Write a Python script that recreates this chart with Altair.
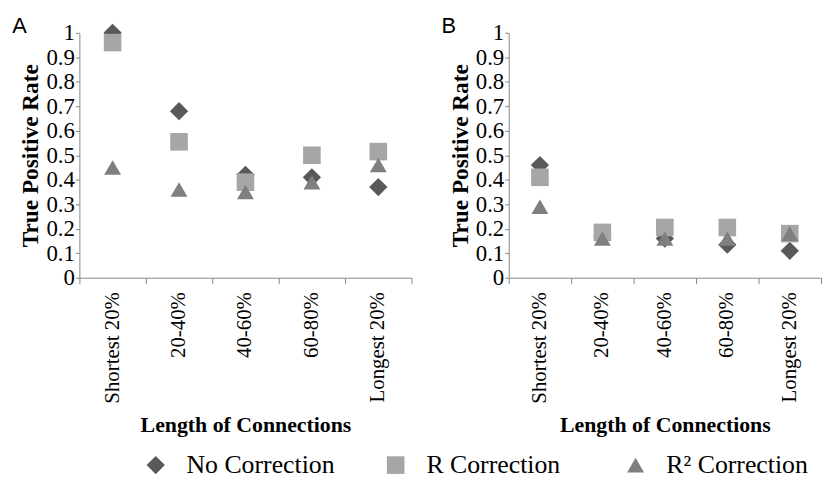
import altair as alt
import pandas as pd

categories = ["Shortest 20%", "20-40%", "40-60%", "60-80%", "Longest 20%"]
series = ["No Correction", "R Correction", "R² Correction"]
shapes = ["diamond", "square", "triangle-up"]
colors = ["#595959", "#a6a6a6", "#7f7f7f"]
sizes = [340, 290, 380]

a_no = [1.00, 0.68, 0.42, 0.41, 0.37]
a_r = [0.96, 0.555, 0.39, 0.50, 0.515]
a_r2 = [0.45, 0.36, 0.35, 0.39, 0.46]

b_no = [0.46, 0.17, 0.16, 0.135, 0.11]
b_r = [0.41, 0.185, 0.205, 0.205, 0.18]
b_r2 = [0.29, 0.16, 0.16, 0.16, 0.18]

y_ticks = [0, 0.1, 0.2, 0.3, 0.4, 0.5, 0.6, 0.7, 0.8, 0.9, 1]


def make_df(vals):
    rows = []
    for s, v in zip(series, vals):
        for c, y in zip(categories, v):
            rows.append({"Length": c, "Rate": y, "Series": s})
    return pd.DataFrame(rows)


df_a = make_df([a_no, a_r, a_r2])
df_b = make_df([b_no, b_r, b_r2])

SERIF = "Liberation Serif"
AX = "#868686"


def panel(df, letter, width):
    return alt.Chart(df).mark_point(filled=True, opacity=1, strokeWidth=0).encode(
        x=alt.X(
            "Length:N",
            sort=categories,
            scale=alt.Scale(type="band", paddingInner=0, paddingOuter=0),
            axis=alt.Axis(
                title="Length of Connections",
                labelAngle=-90,
                labelFont=SERIF,
                labelFontSize=21,
                labelColor="#000",
                labelPadding=8,
                bandPosition=1,
                tickExtra=True,
                tickSize=6,
                tickColor=AX,
                domainColor=AX,
                titleFont=SERIF,
                titleFontSize=22,
                titleFontWeight="bold",
                titleColor="#000",
                titlePadding=12,
            ),
        ),
        y=alt.Y(
            "Rate:Q",
            scale=alt.Scale(domain=[0, 1], nice=False),
            axis=alt.Axis(
                title="True Positive Rate",
                values=y_ticks,
                format="~g",
                labelFont=SERIF,
                labelFontSize=23,
                labelColor="#000",
                labelPadding=1,
                tickSize=4,
                tickColor=AX,
                domainColor=AX,
                grid=False,
                titleFont=SERIF,
                titleFontSize=23.5,
                titleFontWeight="bold",
                titleColor="#000",
                titlePadding=3,
            ),
        ),
        color=alt.Color(
            "Series:N",
            sort=series,
            scale=alt.Scale(domain=series, range=colors),
            legend=alt.Legend(
                title=None,
                orient="none",
                legendX=64,
                legendY=423,
                direction="horizontal",
                columns=3,
                gridAlign="all",
                columnPadding=48,
                labelFont=SERIF,
                labelFontSize=26,
                labelColor="#000",
                labelOffset=18,
                symbolSize=420,
                symbolStrokeWidth=0,
            ),
        ),
        shape=alt.Shape(
            "Series:N",
            sort=series,
            scale=alt.Scale(domain=series, range=shapes),
        ),
        size=alt.Size(
            "Series:N",
            sort=series,
            scale=alt.Scale(domain=series, range=sizes),
            legend=None,
        ),
    ).properties(
        width=width,
        height=247,
        title=alt.TitleParams(
            letter,
            anchor="start",
            frame="bounds",
            font="Liberation Sans",
            fontSize=22,
            fontWeight="normal",
            color="#000",
            offset=-16,
            dx=-7,
        ),
    )


chart = alt.hconcat(
    panel(df_a, "A", 335), panel(df_b, "B", 315), spacing=29
).properties(
    padding={"left": 4, "top": 5, "right": 0, "bottom": 0}
).configure(
    font=SERIF
).configure_view(
    stroke=None
).configure_legend(
    labelFont=SERIF,
    labelFontSize=26,
    labelColor="#000",
)

chart.save("out.html", embed_options={"renderer": "svg", "actions": False})
